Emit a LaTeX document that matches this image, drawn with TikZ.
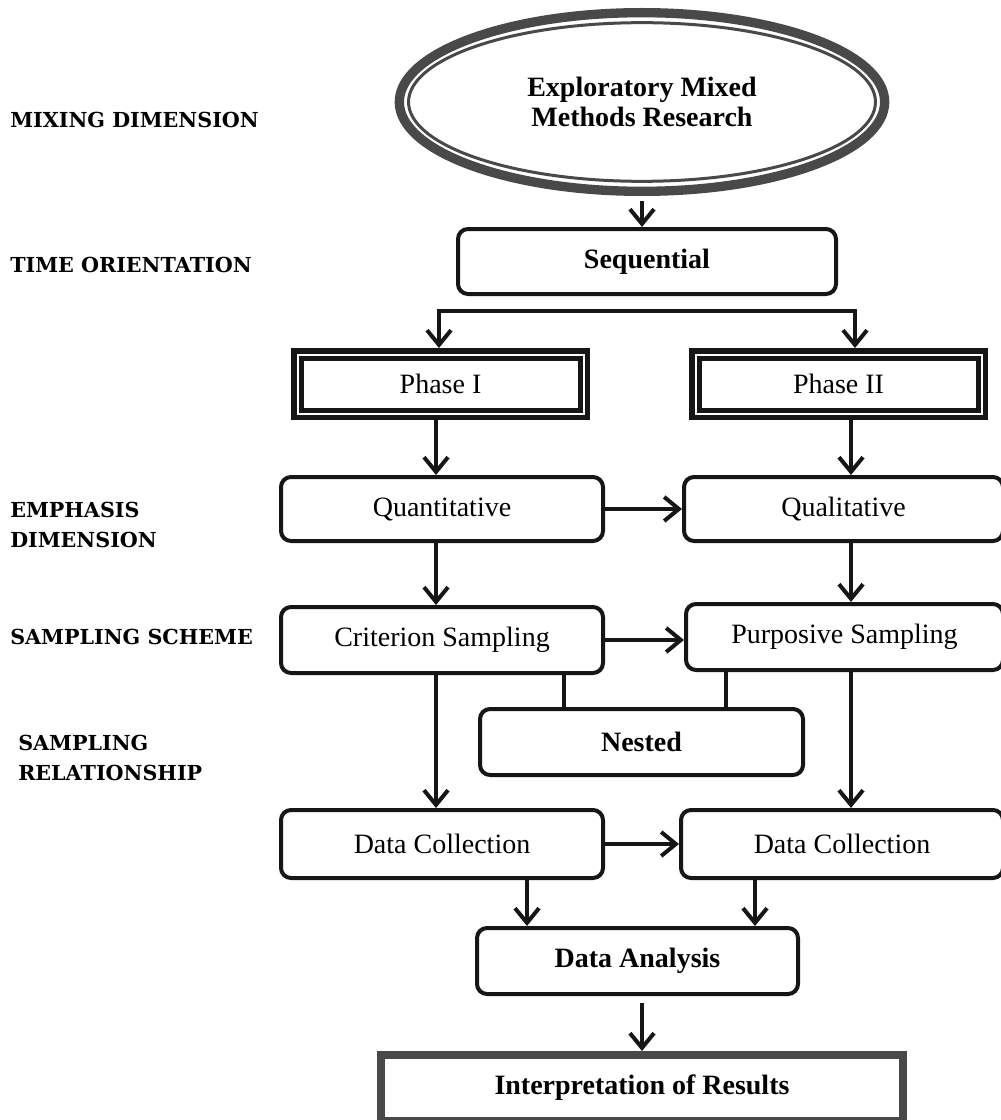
\documentclass[tikz,border=0pt]{standalone}
\usepackage{fontspec}
\setmainfont{Liberation Serif}
\newfontfamily\labfont{DejaVu Serif}
\usetikzlibrary{arrows.meta,shapes.geometric}
\definecolor{ink}{HTML}{181614}
\definecolor{ringgray}{HTML}{494949}
\begin{document}
\begin{tikzpicture}[x=0.75pt,y=-0.75pt,
  txt/.style={font=\fontsize{21}{22.5}\selectfont},
  btxt/.style={font=\fontsize{21}{22.5}\selectfont\bfseries},
  box/.style={draw=ink, line width=3pt, rounded corners=7.5pt, fill=white, inner sep=0pt, txt},
  bbox/.style={box, btxt},
  phasebox/.style={draw=ink, line width=3.75pt, fill=white, inner sep=0pt, minimum width=220.5pt, minimum height=50.25pt, txt},
  tip/.tip={Straight Barb[length=11pt,width=18pt]},
  arr/.style={draw=ink, line width=3pt, -tip},
  link/.style={draw=ink, line width=3pt},
  lab/.style={anchor=west, inner sep=0pt, align=left, font=\labfont\bfseries\fontsize{15.5}{22.5}\selectfont},
]
\useasboundingbox (0,0) rectangle (1000,1120);

% side labels
\node[lab] (lmix) at (10,120) {MIXING DIMENSION};
\node[lab] (ltime) at (10,265) {TIME ORIENTATION};
\node[lab] (lemph) at (10,525) {EMPHASIS\\DIMENSION};
\node[lab] (lscheme) at (10,637) {SAMPLING SCHEME};
\node[lab] (lrel) at (18,758) {SAMPLING\\RELATIONSHIP};

% ellipse
\node[ellipse, draw=ringgray, line width=7pt, fill=white, minimum width=364pt, minimum height=134pt,
      inner sep=0pt, align=center, btxt] (ell) at (642,102) {Exploratory Mixed\\Methods Research};
\draw[ringgray, line width=2.25pt] (ell.center) ellipse [x radius=175.1pt, y radius=59.5pt];

% boxes
\node[bbox, minimum width=283.5pt, minimum height=48.75pt] (seq) at (647,261.5) {Sequential};
\node[phasebox] (p1) at (440.5,384) {Phase I};
\node[phasebox] (p2) at (838.5,384) {Phase II};
\foreach \p in {p1,p2}{
  \draw[ink, line width=1.125pt] ([shift={(4.75,4.75)}]\p.north west) rectangle ([shift={(-4.75,-4.75)}]\p.south east);
  \draw[ink, line width=3.75pt] ([shift={(10,10)}]\p.north west) rectangle ([shift={(-10,-10)}]\p.south east);
}
\node[box, minimum width=241.5pt, minimum height=48pt] (quant) at (442,509) {Quantitative};
\node[box, minimum width=239.25pt, minimum height=48pt] (qual) at (843.5,509) {Qualitative};
\node[box, minimum width=241.5pt, minimum height=49.5pt] (crit) at (442,640) {Criterion Sampling};
\node[box, minimum width=237.75pt, minimum height=49.5pt] (purp) at (844.5,637) {Purposive Sampling};
\node[bbox, minimum width=242.25pt, minimum height=49.5pt] (nested) at (641.5,742) {Nested};
\node[box, minimum width=241.5pt, minimum height=51pt] (dcl) at (442,844) {Data Collection};
\node[box, minimum width=241.5pt, minimum height=51pt] (dcr) at (842,844) {Data Collection};
\node[bbox, minimum width=240.75pt, minimum height=49.5pt] (da) at (637.5,961) {Data Analysis};
\node[draw=ringgray, line width=6pt, fill=white, inner sep=0pt, minimum width=391.5pt, minimum height=49.5pt, btxt]
      (interp) at (642,1088) {Interpretation of Results};

% connectors
\coordinate (brL) at (439,311);
\coordinate (brR) at (855,311);
\coordinate (colL) at (436,0);
\coordinate (colR) at (851,0);
\coordinate (nL) at (564,0);
\coordinate (nR) at (726,0);
\coordinate (aL) at (527,0);
\coordinate (aR) at (755,0);

\draw[arr, shorten <=3.5pt] (ell.south) -- (ell.south |- seq.north);
\draw[link, tip-tip] (brL |- p1.north) -- (brL) -- (brR) -- (brR |- p2.north);
\draw[arr] (p1.south -| colL) -- (quant.north -| colL);
\draw[arr] (p2.south -| colR) -- (qual.north -| colR);
\draw[arr] (quant.east) -- (quant.east -| qual.west);
\draw[arr] (quant.south -| colL) -- (crit.north -| colL);
\draw[arr] (qual.south -| colR) -- (purp.north -| colR);
\draw[arr] (crit.east) -- (crit.east -| purp.west);
\draw[link] (crit.south -| nL) -- (nested.north -| nL);
\draw[link] (purp.south -| nR) -- (nested.north -| nR);
\draw[arr] (crit.south -| colL) -- (dcl.north -| colL);
\draw[arr] (purp.south -| colR) -- (dcr.north -| colR);
\draw[arr] (dcl.east) -- (dcl.east -| dcr.west);
\draw[arr] (dcl.south -| aL) -- (da.north -| aL);
\draw[arr] (dcr.south -| aR) -- (da.north -| aR);
\draw[arr, shorten <=5pt] (da.south -| interp.north) -- (interp.north);
\end{tikzpicture}
\end{document}
